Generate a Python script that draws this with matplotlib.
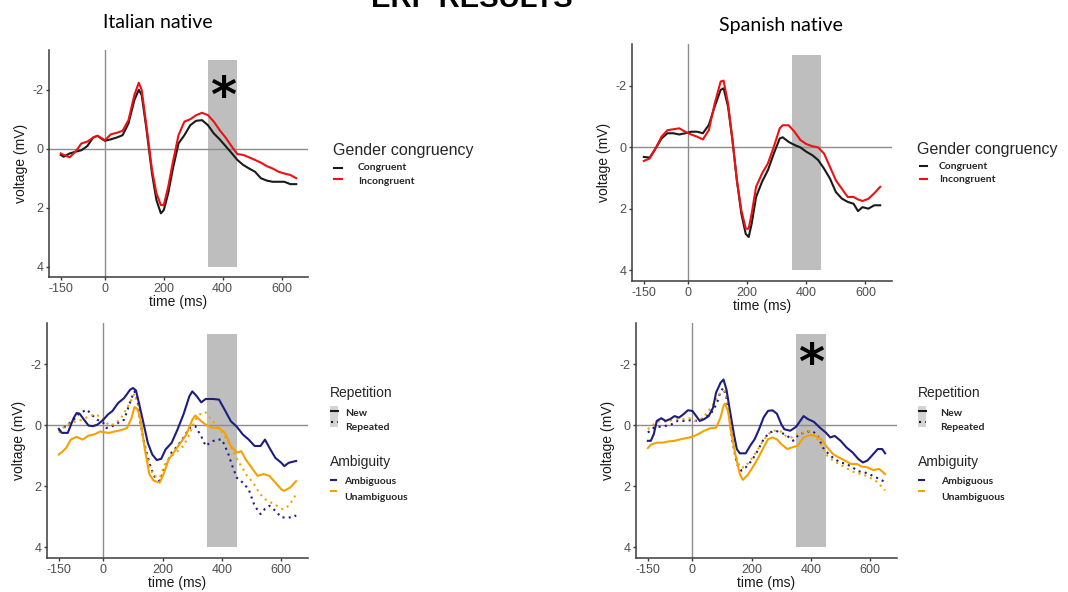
import matplotlib
matplotlib.use("Agg")
import matplotlib.pyplot as plt
from matplotlib.lines import Line2D
from matplotlib.patches import Rectangle

# ---------------- data ----------------
x_ticks = [-150, 0, 200, 400, 600]
y_ticks = [-2, 0, 2, 4]
window = (350, 450)          # shaded analysis window (ms)
window_v = (-3, 4)            # vertical extent of shaded window

# Panel 1: Italian native, gender congruency
it_t = [-150,-140,-120,-100,-80,-60,-40,-25,-10,0,20,40,60,80,100,115,125,140,150,160,175,190,200,215,230,
        250,270,290,310,330,350,370,390,410,430,450,470,490,510,530,550,570,590,610,630,650]
it_congruent = [0.21,0.27,0.16,0.10,0.05,-0.09,-0.38,-0.44,-0.33,-0.27,-0.32,-0.38,-0.46,-0.86,-1.65,-2.0,-1.82,
                -0.75,0.05,0.84,1.74,2.19,2.08,1.51,0.72,-0.18,-0.46,-0.80,-0.95,-0.97,-0.80,-0.52,-0.32,-0.09,
                0.14,0.38,0.55,0.67,0.78,1.0,1.08,1.12,1.12,1.12,1.2,1.2]
it_incongruent = [0.16,0.21,0.29,0.10,-0.18,-0.24,-0.38,-0.44,-0.35,-0.29,-0.49,-0.54,-0.61,-0.97,-1.82,-2.24,-1.99,
                  -0.86,-0.07,0.72,1.51,1.91,1.91,1.29,0.5,-0.46,-0.92,-1.0,-1.14,-1.22,-1.14,-0.92,-0.63,-0.38,
                  -0.09,0.18,0.21,0.29,0.38,0.47,0.59,0.67,0.78,0.84,0.89,1.0]

# Panel 2: Spanish native, gender congruency
sp_t = [-150,-130,-110,-90,-70,-50,-30,-10,10,30,50,70,90,110,120,135,150,165,180,195,205,215,230,250,270,
        290,310,320,340,360,380,400,420,440,460,480,500,520,540,560,575,590,610,630,650]
sp_congruent = [0.32,0.34,0.04,-0.28,-0.45,-0.45,-0.41,-0.45,-0.5,-0.5,-0.45,-0.72,-1.32,-1.86,-1.91,-1.32,-0.23,
                1.08,2.16,2.82,2.92,2.49,1.62,1.13,0.75,0.21,-0.28,-0.32,-0.17,-0.07,0.01,0.15,0.26,0.42,0.7,
                1.02,1.46,1.67,1.78,1.84,2.08,1.95,2.0,1.89,1.89]
sp_incongruent = [0.45,0.37,0.04,-0.34,-0.55,-0.58,-0.61,-0.5,-0.41,-0.34,-0.25,-0.55,-1.42,-2.13,-2.16,-1.42,-0.23,
                  1.08,2.05,2.65,2.65,2.16,1.29,0.86,0.53,-0.01,-0.61,-0.71,-0.71,-0.5,-0.23,-0.1,-0.03,0.01,0.21,
                  0.64,1.08,1.35,1.62,1.62,1.7,1.75,1.68,1.5,1.29]

# Panel 3: Italian native, repetition x ambiguity
it_amb_new_t = [-150,-140,-120,-100,-90,-80,-65,-50,-35,-20,0,15,30,50,70,90,100,110,120,135,150,165,180,195,210,
                230,250,270,290,300,315,330,345,370,390,410,430,450,470,490,510,530,545,560,580,600,610,625,650]
it_amb_new = [0.12,0.25,0.25,-0.24,-0.4,-0.38,-0.18,0.01,0.03,-0.02,-0.18,-0.35,-0.46,-0.73,-0.89,-1.16,-1.22,-1.14,
              -0.73,-0.08,0.58,0.96,1.14,1.1,0.79,0.58,0.14,-0.35,-0.95,-1.11,-0.95,-0.75,-0.86,-0.86,-0.84,-0.49,
              -0.13,0.05,0.3,0.47,0.68,0.68,0.47,0.74,1.07,1.23,1.34,1.23,1.17]
it_unamb_new_t = [-150,-140,-125,-110,-90,-70,-50,-30,-10,0,20,40,60,80,95,105,115,125,140,155,170,190,205,220,240,
                  260,280,300,310,330,350,370,390,410,430,450,465,480,500,520,540,560,580,600,610,630,650]
it_unamb_new = [0.96,0.88,0.74,0.47,0.38,0.47,0.34,0.3,0.2,0.23,0.25,0.2,0.16,0.09,-0.24,-0.6,-0.53,-0.2,0.8,1.6,
                1.82,1.88,1.55,1.12,0.85,0.58,0.3,-0.18,-0.32,-0.13,0.01,0.09,0.09,0.25,0.68,0.9,0.85,1.12,1.39,
                1.66,1.6,1.66,1.88,2.1,2.15,2.04,1.83]
it_amb_rep_t = [-150,-120,-100,-80,-55,-40,-20,0,10,30,50,70,80,95,105,115,125,140,155,170,190,210,230,250,270,
                290,310,330,345,360,380,400,420,435,450,470,490,510,530,545,560,580,600,620,640,650]
it_amb_rep = [0.2,-0.02,-0.18,-0.4,-0.51,-0.35,-0.18,-0.08,0.09,0.03,-0.08,-0.18,-0.46,-0.89,-1.11,-0.84,-0.08,0.68,
              1.23,1.66,1.83,1.34,0.9,0.68,0.41,0.09,0.03,0.36,0.68,0.57,0.47,0.47,0.9,1.34,1.72,1.88,2.1,2.64,
              2.91,2.74,2.64,2.8,3.02,3.02,3.02,2.95]
it_unamb_rep_t = [-150,-130,-110,-90,-70,-50,-30,-10,0,20,40,60,80,95,105,115,125,140,155,170,190,210,230,250,270,
                  290,310,330,345,365,385,405,425,445,465,485,505,525,545,565,585,605,625,640,650]
it_unamb_rep = [0.25,0.03,-0.08,-0.13,-0.18,-0.29,-0.35,-0.29,-0.18,0.01,-0.05,-0.24,-0.57,-0.84,-1.03,-0.73,-0.08,
                0.68,1.34,1.66,1.72,1.23,1.01,0.85,0.68,0.3,-0.18,-0.4,-0.42,-0.18,0.03,0.3,0.63,1.01,1.34,1.66,
                1.88,2.21,2.42,2.53,2.64,2.75,2.64,2.42,2.26]

# Panel 4: Spanish native, repetition x ambiguity
sp_amb_new_t = [-150,-140,-130,-120,-105,-90,-75,-60,-45,-30,-15,0,10,25,40,55,70,80,95,105,115,125,140,150,160,
                180,195,210,225,240,255,270,285,300,310,330,350,375,390,410,430,450,465,480,500,520,540,560,575,
                590,605,625,640,650]
sp_amb_new = [0.51,0.51,0.29,-0.14,-0.23,-0.14,-0.2,-0.3,-0.25,-0.36,-0.49,-0.47,-0.34,-0.14,-0.2,-0.3,-0.58,-1.07,
              -1.39,-1.5,-1.17,-0.58,0.29,0.78,0.92,0.92,0.67,0.46,0.13,-0.25,-0.47,-0.49,-0.38,-0.03,0.13,0.18,
              0.05,-0.3,-0.2,-0.11,0.08,0.24,0.4,0.35,0.51,0.73,0.89,1.11,1.22,1.16,1.0,0.78,0.78,0.92]
sp_unamb_new_t = [-150,-140,-120,-100,-80,-60,-40,-20,0,20,40,60,80,95,105,110,120,130,145,160,170,185,200,220,240,
                  255,270,285,300,320,335,355,375,395,415,435,455,475,495,515,535,555,570,590,610,630,650]
sp_unamb_new = [0.75,0.64,0.57,0.57,0.53,0.51,0.46,0.42,0.38,0.29,0.18,0.1,0.08,-0.25,-0.63,-0.71,-0.47,0.18,0.95,
                1.6,1.79,1.65,1.43,1.11,0.73,0.46,0.4,0.46,0.62,0.78,0.73,0.67,0.4,0.32,0.35,0.46,0.73,0.95,1.06,
                1.16,1.27,1.27,1.35,1.38,1.47,1.43,1.6]
sp_amb_rep_t = [-150,-130,-110,-90,-70,-50,-30,-10,10,30,50,70,85,95,105,115,125,135,150,165,180,200,220,240,260,
                280,300,320,340,360,380,400,420,440,460,480,500,520,540,560,580,600,620,640,650]
sp_amb_rep = [0.24,0.08,0.05,0.02,-0.03,-0.14,-0.14,-0.16,-0.14,-0.2,-0.3,-0.47,-0.79,-1.1,-1.23,-0.9,-0.25,0.51,
              1.27,1.49,1.38,1.16,0.84,0.46,0.24,0.18,0.24,0.35,0.51,0.29,0.24,0.18,0.29,0.73,0.95,1.11,1.22,1.27,
              1.38,1.51,1.54,1.62,1.71,1.81,1.87]
sp_unamb_rep_t = [-150,-130,-110,-90,-70,-50,-30,-10,10,30,50,70,85,100,110,120,130,145,160,175,195,215,235,255,275,
                  295,315,335,355,375,395,415,435,455,475,495,515,535,555,575,595,615,635,650]
sp_unamb_rep = [0.13,-0.03,-0.14,-0.12,-0.16,-0.2,-0.2,-0.23,-0.14,-0.2,-0.41,-0.68,-0.96,-1.1,-1.12,-0.68,0.08,0.95,
                1.38,1.38,1.16,0.89,0.57,0.29,0.18,0.18,0.35,0.4,0.29,0.24,0.18,0.35,0.67,1.0,1.16,1.27,1.38,1.49,
                1.58,1.6,1.71,1.79,1.98,2.14]

# ---------------- style ----------------
W, H = 1068, 592
C_BLACK = "#1a1a1a"
C_RED = "#ee1111"
C_NAVY = "#1d1d80"
C_ORANGE = "#f5a200"
C_RECT = "#bebebe"
C_REF = "#8c8c8c"
C_AXIS = "#3a3a3a"
C_TICK = "#4d4d4d"
LW = 1.5
DOT = (0, (1, 2))
FONT = "Liberation Sans"
FONT_LEG = "Lato"

fig = plt.figure(figsize=(W / 100, H / 100), dpi=100)
fig.patch.set_facecolor("white")


def fx(px):
    return px / W


def fy(py):
    return 1 - py / H


def make_ax(left, top, right, bottom):
    ax = fig.add_axes([fx(left), fy(bottom), (right - left) / W, (bottom - top) / H])
    ax.set_xlim(-190, 690)
    ax.set_ylim(4.35, -3.35)
    ax.add_patch(Rectangle((window[0], window_v[0]), window[1] - window[0], window_v[1] - window_v[0],
                           facecolor=C_RECT, edgecolor="none", zorder=1))
    ax.axhline(0, color=C_REF, lw=1.0, zorder=2)
    ax.axvline(0, color=C_REF, lw=1.0, zorder=2)
    for s in ["top", "right"]:
        ax.spines[s].set_visible(False)
    for s in ["left", "bottom"]:
        ax.spines[s].set_color(C_AXIS)
        ax.spines[s].set_linewidth(1.1)
    ax.set_xticks(x_ticks)
    ax.set_yticks(y_ticks)
    ax.set_xticklabels([str(v) for v in x_ticks])
    ax.set_yticklabels([str(v) for v in y_ticks])
    ax.tick_params(direction="out", length=2.5, width=1.0, color=C_AXIS, labelcolor=C_TICK,
                   labelsize=9, pad=1.5)
    for lab in ax.get_xticklabels() + ax.get_yticklabels():
        lab.set_fontfamily(FONT)
    ax.set_xlabel("time (ms)", fontsize=10, family=FONT, color="#1a1a1a", labelpad=0.5)
    ax.set_ylabel("voltage (mV)", fontsize=10, family=FONT, color="#1a1a1a", labelpad=3)
    ax.patch.set_alpha(0)
    return ax


ax1 = make_ax(49, 50, 308, 277)
ax2 = make_ax(632, 44, 892, 281)
ax3 = make_ax(47, 323, 308, 558)
ax4 = make_ax(636, 323, 897, 558)

ax1.plot(it_t, it_congruent, color=C_BLACK, lw=LW, zorder=3)
ax1.plot(it_t, it_incongruent, color=C_RED, lw=LW, zorder=4)
ax2.plot(sp_t, sp_congruent, color=C_BLACK, lw=LW, zorder=3)
ax2.plot(sp_t, sp_incongruent, color=C_RED, lw=LW, zorder=4)

ax3.plot(it_amb_rep_t, it_amb_rep, color=C_NAVY, lw=LW, ls=DOT, zorder=3)
ax3.plot(it_unamb_rep_t, it_unamb_rep, color=C_ORANGE, lw=LW, ls=DOT, zorder=3)
ax3.plot(it_amb_new_t, it_amb_new, color=C_NAVY, lw=LW, zorder=4)
ax3.plot(it_unamb_new_t, it_unamb_new, color=C_ORANGE, lw=LW, zorder=4)

ax4.plot(sp_amb_rep_t, sp_amb_rep, color=C_NAVY, lw=LW, ls=DOT, zorder=3)
ax4.plot(sp_unamb_rep_t, sp_unamb_rep, color=C_ORANGE, lw=LW, ls=DOT, zorder=3)
ax4.plot(sp_amb_new_t, sp_amb_new, color=C_NAVY, lw=LW, zorder=4)
ax4.plot(sp_unamb_new_t, sp_unamb_new, color=C_ORANGE, lw=LW, zorder=4)

# significance asterisks
ax1.text(400, -1.72, "*", fontsize=36, fontweight="bold", ha="center", va="center",
         family="DejaVu Sans", zorder=6)
ax4.text(400, -1.97, "*", fontsize=36, fontweight="bold", ha="center", va="center",
         family="DejaVu Sans", zorder=6)

# ---------------- titles ----------------
fig.text(fx(472), fy(7), "ERP RESULTS", fontsize=21, fontweight="bold", family=FONT,
         ha="center", va="baseline")
fig.text(fx(158), fy(22), "Italian native", fontsize=14, family="Lato", ha="center", va="center")
fig.text(fx(781), fy(26), "Spanish native", fontsize=14, family="Lato", ha="center", va="center")


# ---------------- legends (drawn manually) ----------------
def key_line(x0, x1, y, color, ls="-"):
    fig.add_artist(Line2D([fx(x0), fx(x1)], [fy(y), fy(y)], color=color, lw=LW, ls=ls,
                          transform=fig.transFigure))


def leg_text(x, y, s, size=7.5, bold=True, family=FONT_LEG):
    fig.text(fx(x), fy(y), s, fontsize=size, fontweight="bold" if bold else "normal",
             family=family, ha="left", va="center", color="#262626")


# Panel 1 legend
leg_text(333, 151, "Gender congruency", size=11.5, bold=False, family=FONT)
key_line(334, 342, 168, C_BLACK)
key_line(334, 342, 179, C_RED)
leg_text(358, 168, "Congruent")
leg_text(358, 182, "Incongruent")

# Panel 2 legend
leg_text(917, 149, "Gender congruency", size=11.5, bold=False, family=FONT)
key_line(920, 927, 166, C_BLACK)
key_line(920, 927, 179, C_RED)
leg_text(939, 166, "Congruent")
leg_text(939, 180, "Incongruent")


def rep_amb_legend(x0, xt, xt2):
    leg_text(x0, 393, "Repetition", size=10, bold=False, family=FONT)
    fig.add_artist(Rectangle((fx(x0), fy(427)), 8 / W, 21 / H, transform=fig.transFigure,
                             facecolor="#d4d4d4", edgecolor="none"))
    key_line(x0 + 0.5, x0 + 7.5, 411, C_BLACK)
    key_line(x0 + 0.5, x0 + 7.5, 422, C_BLACK, ls=DOT)
    leg_text(xt, 414, "New")
    leg_text(xt, 428, "Repeated")
    leg_text(x0, 462, "Ambiguity", size=10, bold=False, family=FONT)
    key_line(x0 + 1, x0 + 6, 480, C_NAVY)
    key_line(x0 + 1, x0 + 6, 491, C_ORANGE)
    leg_text(xt2, 482, "Ambiguous")
    leg_text(xt2, 497, "Unambiguous")


rep_amb_legend(330, 345, 344)
rep_amb_legend(918, 940, 941)

fig.savefig("out.png", dpi=100, facecolor="white")
